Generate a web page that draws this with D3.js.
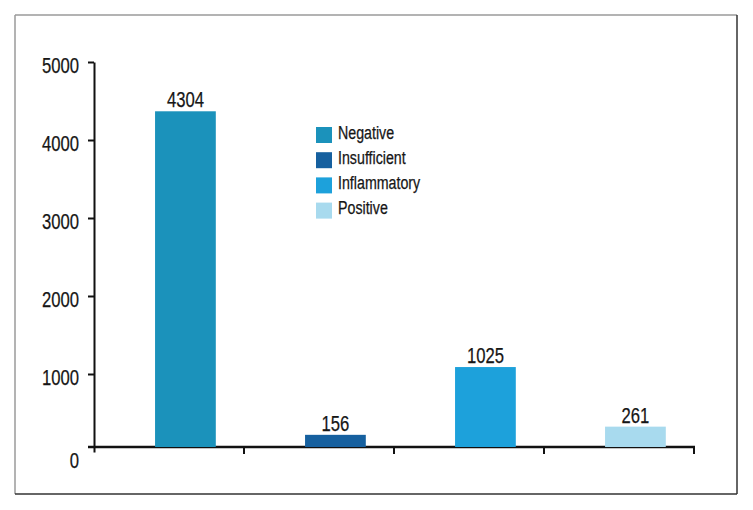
<!DOCTYPE html>
<html>
<head>
<meta charset="utf-8">
<script src="https://cdn.jsdelivr.net/npm/d3@7"></script>
<style>
  body { margin: 0; background: #fff; }
  text { font-family: 'Liberation Sans', Arial, sans-serif; fill: #161616; stroke: #161616; stroke-width: 0.25px; }
</style>
</head>
<body>
<div id="chart"></div>
<script>
// chart data
const categories = ['Negative', 'Insufficient', 'Inflammatory', 'Positive']
const counts = [4304, 156, 1025, 261]
const colors = ['#1b92bb', '#16609f', '#1da1db', '#a8daee']
const yTicks = [0, 1000, 2000, 3000, 4000, 5000]

const visW = 753
const visH = 510

const svg = d3.select('#chart')
  .append('svg')
  .attr('width', visW)
  .attr('height', visH)

// squeeze text horizontally to mimic the condensed face of the original
function condense (sel, k) {
  sel.each(function () {
    const w = this.getComputedTextLength()
    d3.select(this)
      .attr('textLength', w * k)
      .attr('lengthAdjust', 'spacingAndGlyphs')
  })
}

// outer frame (light top/left, dark bottom/right)
const frame = { x0: 15, y0: 15, x1: 737, y1: 494 }
svg.append('line').attr('x1', frame.x0).attr('y1', frame.y0).attr('x2', frame.x1).attr('y2', frame.y0)
  .style('stroke', '#9a9a9a').style('stroke-width', 1.5)
svg.append('line').attr('x1', frame.x0).attr('y1', frame.y0).attr('x2', frame.x0).attr('y2', frame.y1)
  .style('stroke', '#9a9a9a').style('stroke-width', 1.5)
svg.append('line').attr('x1', frame.x1).attr('y1', frame.y0).attr('x2', frame.x1).attr('y2', frame.y1)
  .style('stroke', '#333').style('stroke-width', 1.5)
svg.append('line').attr('x1', frame.x0).attr('y1', frame.y1).attr('x2', frame.x1).attr('y2', frame.y1)
  .style('stroke', '#333').style('stroke-width', 1.5)

// scales: bars sit on the x axis line, the y axis is drawn a few px lower
const baseY = 447
const x = d3.scaleBand().domain(categories).range([94, 694])
const y = d3.scaleLinear().domain([0, 5000]).range([baseY, 57])
const yAxisScale = d3.scaleLinear().domain([0, 5000]).range([452, 62])

// y axis
const yAxis = svg.append('g')
  .attr('transform', 'translate(94,0)')
  .call(d3.axisLeft(yAxisScale)
    .tickValues(yTicks)
    .tickFormat(d3.format('d'))
    .tickSize(6)
    .tickSizeOuter(0)
    .tickPadding(9))
yAxis.attr('font-family', null)
yAxis.select('.domain').style('stroke', '#111').style('stroke-width', 2)
yAxis.selectAll('.tick line').style('stroke', '#111').style('stroke-width', 2)
yAxis.selectAll('.tick text')
  .attr('font-size', 22.5)
  .attr('dy', '0.48em')
  .call(condense, 0.74)
// the zero tick sits on the x axis line, with its label below it
yAxis.selectAll('.tick').filter(d => d === 0)
  .attr('transform', 'translate(0,' + baseY + ')')
  .select('text')
  .attr('dy', '0.95em')

// x axis
const xAxis = svg.append('g')
  .attr('transform', 'translate(0,' + baseY + ')')
xAxis.append('line')
  .attr('x1', 88)
  .attr('x2', 695)
  .style('stroke', '#111')
  .style('stroke-width', 2.5)
xAxis.selectAll('.xtick')
  .data(categories.slice(1).concat(['end']))
  .enter()
  .append('line')
  .attr('class', 'xtick')
  .attr('x1', (d, i) => i < 3 ? x(d) : x.range()[1])
  .attr('x2', (d, i) => i < 3 ? x(d) : x.range()[1])
  .attr('y1', 0)
  .attr('y2', 7)
  .style('stroke', '#111')
  .style('stroke-width', 2)

// bars
const barOffset = x.bandwidth() * 0.407
const barW = x.bandwidth() * 0.405
svg.selectAll('.bar')
  .data(counts)
  .enter()
  .append('rect')
  .attr('class', 'bar')
  .attr('x', (d, i) => x(categories[i]) + barOffset)
  .attr('y', d => y(d))
  .attr('width', barW)
  .attr('height', d => baseY - y(d))
  .style('fill', (d, i) => colors[i])

// value labels
svg.selectAll('.val')
  .data(counts)
  .enter()
  .append('text')
  .attr('class', 'val')
  .attr('x', (d, i) => x(categories[i]) + barOffset + barW / 2)
  .attr('y', d => y(d) - 4)
  .attr('text-anchor', 'middle')
  .attr('font-size', 22.5)
  .text(d => d)
  .call(condense, 0.74)

// legend
const legend = svg.append('g')
  .attr('transform', 'translate(316,127)')
const items = legend.selectAll('g')
  .data(categories)
  .enter()
  .append('g')
  .attr('transform', (d, i) => 'translate(0,' + i * 25.2 + ')')
items.append('rect')
  .attr('width', 16)
  .attr('height', 16)
  .style('fill', (d, i) => colors[i])
items.append('text')
  .attr('x', 22)
  .attr('y', 11.5)
  .attr('font-size', 18)
  .text(d => d)
  .call(condense, 0.79)
</script>
</body>
</html>
